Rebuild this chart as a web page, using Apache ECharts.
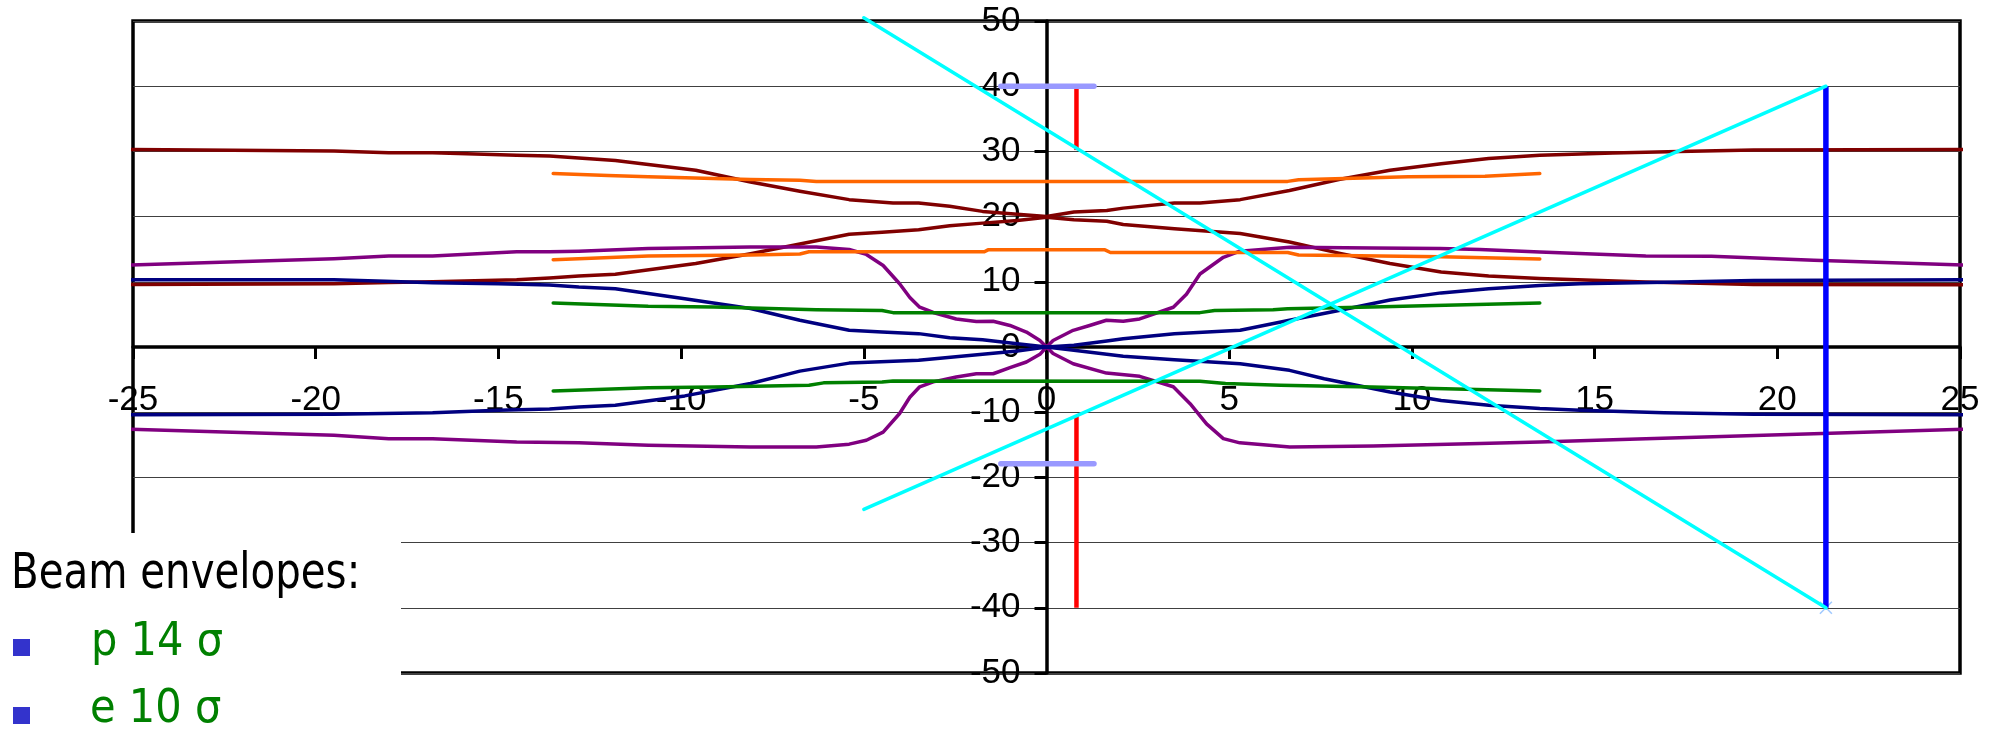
<!DOCTYPE html>
<html>
<head>
<meta charset="utf-8">
<script src="https://cdn.jsdelivr.net/npm/echarts@6/dist/echarts.min.js"></script>
<style>html,body{margin:0;padding:0;background:#fff}#c{width:2000px;height:732px}</style>
</head>
<body>
<div id="c"></div>
<script>
// ---- data (x, y) ----
const xTicks = [-25, -20, -15, -10, -5, 0, 5, 10, 15, 20, 25];
const yTicks = [-50, -40, -30, -20, -10, 0, 10, 20, 30, 40, 50];

const darkRedTop = [[-25.25,30.3],[-19.5,30.05],[-18,29.8],[-16.8,29.8],[-15.4,29.55],[-14.5,29.4],[-13.6,29.3],[-12.8,29.0],[-11.8,28.6],[-9.6,27.1],[-8.1,25.3],[-6.75,23.9],[-5.4,22.6],[-4.2,22.1],[-3.5,22.1],[-2.65,21.6],[-1.75,20.8],[-0.8,20.35],[0,20],[0.75,20.7],[1.65,20.95],[2.1,21.3],[3.5,22.1],[4.2,22.1],[5.3,22.6],[6.65,24.0],[8.0,25.7],[9.4,27.1],[10.8,28.1],[12.1,28.9],[13.5,29.4],[15.5,29.75],[17.3,30.0],[19.35,30.2],[25.25,30.3]];
const darkRedBottom = [[-25.25,9.6],[-19.5,9.7],[-18,9.9],[-16.8,10.0],[-14.5,10.3],[-13.6,10.6],[-12.8,10.9],[-11.8,11.15],[-9.6,12.8],[-8.1,14.3],[-6.75,15.8],[-5.4,17.3],[-4.5,17.6],[-3.5,18.0],[-2.65,18.6],[-1.75,19.0],[-0.8,19.4],[0,19.9],[0.75,19.5],[1.65,19.3],[2.1,18.8],[3.5,18.15],[5.3,17.4],[6.65,16.1],[8.0,14.4],[9.4,12.8],[10.8,11.5],[12.1,10.9],[13.5,10.5],[16.4,9.97],[19.35,9.6],[25.25,9.55]];
const navyTop = [[-25.25,10.33],[-19.5,10.33],[-18.1,10.1],[-16.8,9.87],[-15,9.7],[-13.6,9.5],[-12.8,9.2],[-11.8,8.95],[-9.9,7.4],[-8.1,5.9],[-6.75,4.1],[-5.4,2.56],[-4.5,2.3],[-3.5,2.05],[-2.65,1.43],[-1.75,1.1],[-0.8,0.5],[0,0],[0.75,0.26],[1.65,0.92],[2.1,1.28],[3.5,2.05],[5.3,2.56],[6.65,4.1],[8.0,5.6],[9.4,7.2],[10.8,8.3],[12.1,8.95],[13.5,9.45],[14.6,9.7],[17.3,9.97],[19.35,10.2],[25.25,10.33]];
const navyBottom = [[-25.25,-10.4],[-19.5,-10.33],[-16.8,-10.1],[-15,-9.7],[-13.6,-9.5],[-12.8,-9.2],[-11.8,-8.95],[-9.9,-7.5],[-8.1,-5.6],[-6.75,-3.7],[-5.4,-2.47],[-3.5,-2.05],[-1.75,-1.12],[-0.8,-0.6],[0,0],[0.75,-0.5],[2.1,-1.43],[3.5,-1.94],[5.3,-2.56],[6.65,-3.58],[7.6,-4.86],[9.4,-6.9],[10.8,-8.2],[12.1,-8.95],[13.5,-9.45],[14.6,-9.7],[16.9,-10.1],[19.35,-10.33],[25.25,-10.4]];
const purpleTop = [[-25.25,12.53],[-19.5,13.55],[-18,13.96],[-16.8,13.96],[-14.5,14.6],[-13.6,14.6],[-12.8,14.7],[-10.9,15.1],[-8.1,15.35],[-6.3,15.35],[-5.4,14.95],[-4.93,14.2],[-4.47,12.5],[-4.02,9.7],[-3.74,7.6],[-3.47,6.1],[-3.1,5.3],[-2.47,4.3],[-1.92,3.9],[-1.46,3.95],[-1.0,3.3],[-0.55,2.3],[-0.18,1.0],[0,0],[0.18,1.0],[0.73,2.56],[1.18,3.3],[1.64,4.1],[2.1,3.95],[2.55,4.3],[3.47,6.1],[3.83,8.1],[4.2,11.2],[4.84,13.76],[5.29,14.7],[6.66,15.3],[8.94,15.2],[10.77,15.1],[11.86,14.95],[13.5,14.57],[16.4,13.96],[18.2,13.9],[21,13.3],[25.25,12.53]];
const purpleBottom = [[-25.25,-12.6],[-19.5,-13.55],[-18,-14.06],[-16.8,-14.06],[-14.5,-14.57],[-12.8,-14.7],[-10.9,-15.08],[-8.1,-15.33],[-6.3,-15.33],[-5.4,-14.9],[-4.93,-14.3],[-4.47,-13.05],[-4.02,-10.2],[-3.74,-7.7],[-3.47,-6.1],[-3.1,-5.35],[-2.47,-4.6],[-1.92,-4.1],[-1.46,-4.1],[-1.0,-3.17],[-0.55,-2.3],[-0.18,-1.12],[0,0],[0.18,-1.0],[0.73,-2.56],[1.64,-4.0],[2.55,-4.5],[3.47,-6.1],[3.93,-8.7],[4.38,-11.8],[4.84,-14.06],[5.29,-14.7],[6.66,-15.33],[8.94,-15.2],[11.86,-14.8],[13.5,-14.57],[16.4,-14.06],[21,-13.3],[25.25,-12.6]];
const orangeTop = [[-13.5,26.6],[-12,26.3],[-10.9,26.1],[-8.1,25.7],[-6.75,25.57],[-6.3,25.4],[0,25.4],[6.6,25.4],[6.9,25.65],[9.9,26.1],[12,26.2],[13.5,26.6]];
const orangeBottom = [[-13.5,13.4],[-10.9,13.96],[-8.1,14.1],[-6.75,14.27],[-6.5,14.6],[-1.7,14.6],[-1.6,14.9],[1.6,14.9],[1.75,14.5],[6.6,14.5],[6.9,14.1],[10.8,13.86],[13.5,13.5]];
const greenTop = [[-13.5,6.75],[-10.9,6.24],[-9.1,6.13],[-6.3,5.7],[-4.5,5.6],[-4.2,5.27],[4.2,5.27],[4.6,5.6],[6.2,5.7],[6.6,5.88],[8.9,6.13],[13.5,6.75]];
const greenBottom = [[-13.5,-6.75],[-10.9,-6.24],[-9.1,-6.13],[-6.5,-5.88],[-6.1,-5.5],[-4.5,-5.37],[-4.2,-5.2],[4.2,-5.27],[4.9,-5.6],[6.4,-5.88],[8.9,-6.13],[13.5,-6.75]];
const redUpper = [[0.82,40],[0.82,30.2]];
const redLower = [[0.82,-10.6],[0.82,-40]];
const lilacUpper = [[-1.25,40],[1.3,40]];
const lilacLower = [[-1.25,-17.9],[1.3,-17.9]];
const blueLine = [[21.33,40],[21.33,-40]];
const cyanDown = [[-5,50.5],[21.33,-40]];
const cyanUp = [[-5,-24.9],[21.33,40]];
const crossPoint = [[21.33,-40]];

const legendTitle = 'Beam envelopes:';
const legendItems = ['p 14 σ', 'e 10 σ'];

// ---- layout ----
const W = 2000, H = 732;
const G = { left: 133, right: 40, top: 21, bottom: 59 };
const plotW = W - G.left - G.right, plotH = H - G.top - G.bottom;
const xMin = xTicks[0], xMax = xTicks[xTicks.length - 1];
const yMin = yTicks[0], yMax = yTicks[yTicks.length - 1];
// axes cross at the origin: shift each axis from the grid edge to the zero line
const xAxisOffset = -plotH * (0 - yMin) / (yMax - yMin);
const yAxisOffset = -plotW * (0 - xMin) / (xMax - xMin);

const FONT = 'Liberation Sans';
function line(data, color, width, extra) {
  return Object.assign({
    type: 'line', data: data, showSymbol: false, symbol: 'none', clip: false,
    animation: false, silent: true,
    lineStyle: { color: color, width: width, cap: 'round', join: 'round' }
  }, extra || {});
}

const chart = echarts.init(document.getElementById('c'), null, { renderer: 'canvas' });
chart.setOption({
  animation: false,
  backgroundColor: '#fff',
  grid: { left: G.left, right: G.right, top: G.top, bottom: G.bottom, show: true, borderColor: '#000', borderWidth: 3.5, backgroundColor: 'transparent' },
  xAxis: {
    type: 'value', min: xMin, max: xMax, interval: 5, position: 'bottom', offset: xAxisOffset,
    axisLine: { onZero: false, lineStyle: { color: '#000', width: 3.5 } },
    axisTick: { show: true, length: 12, lineStyle: { color: '#000', width: 3 } },
    axisLabel: { color: '#000', fontFamily: FONT, fontSize: 35, margin: 36, showMinLabel: true, showMaxLabel: true },
    splitLine: { show: false }
  },
  yAxis: {
    type: 'value', min: yMin, max: yMax, interval: 10, position: 'left', offset: yAxisOffset,
    axisLine: { onZero: false, lineStyle: { color: '#000', width: 3.5 } },
    axisTick: { show: true, length: 12, lineStyle: { color: '#000', width: 3 } },
    axisLabel: { color: '#000', fontFamily: FONT, fontSize: 35, margin: 26, showMinLabel: true, showMaxLabel: true },
    splitLine: { show: true, lineStyle: { color: '#404040', width: 1.2 } }
  },
  series: [
    line(darkRedTop, '#800000', 3.5),
    line(darkRedBottom, '#800000', 3.5),
    line(purpleTop, '#800080', 3.5),
    line(purpleBottom, '#800080', 3.5),
    line(navyTop, '#000080', 3.5),
    line(navyBottom, '#000080', 3.5),
    line(orangeTop, '#FF6600', 3.5),
    line(orangeBottom, '#FF6600', 3.5),
    line(greenTop, '#008000', 3.5),
    line(greenBottom, '#008000', 3.5),
    line(redUpper, '#FF0000', 4.5, { lineStyle: { color: '#FF0000', width: 4.5, cap: 'butt' } }),
    line(redLower, '#FF0000', 4.5, { lineStyle: { color: '#FF0000', width: 4.5, cap: 'butt' } }),
    line(lilacUpper, '#9999FF', 5.5),
    line(lilacLower, '#9999FF', 5.5),
    line(blueLine, '#0000FF', 5.5, { lineStyle: { color: '#0000FF', width: 5.5, cap: 'butt' } }),
    line(cyanDown, '#00FFFF', 3.5),
    line(cyanUp, '#00FFFF', 3.5),
    { type: 'scatter', data: crossPoint, symbol: 'path://M0,0L10,10M10,0L0,10', symbolSize: 12,
      itemStyle: { color: 'none', borderColor: '#88bbff', borderWidth: 1.5 }, silent: true, clip: false, animation: false }
  ],
  graphic: [
    { type: 'rect', z: 100, shape: { x: 0, y: 533, width: 401, height: 199 }, style: { fill: '#fff' } },
    { type: 'text', z: 101, x: 11, y: 575, scaleX: 0.823,
      style: { text: legendTitle, x: 0, y: 0, fill: '#000', font: "49px 'DejaVu Sans', sans-serif", align: 'left', verticalAlign: 'middle' } },
    { type: 'rect', z: 101, shape: { x: 13, y: 639, width: 17, height: 17 }, style: { fill: '#3333CC' } },
    { type: 'text', z: 101, x: 91, y: 643, scaleX: 0.885,
      style: { text: legendItems[0], x: 0, y: 0, fill: '#008000', font: "47px 'DejaVu Sans', sans-serif", align: 'left', verticalAlign: 'middle' } },
    { type: 'rect', z: 101, shape: { x: 13, y: 707, width: 17, height: 17 }, style: { fill: '#3333CC' } },
    { type: 'text', z: 101, x: 90, y: 710, scaleX: 0.885,
      style: { text: legendItems[1], x: 0, y: 0, fill: '#008000', font: "47px 'DejaVu Sans', sans-serif", align: 'left', verticalAlign: 'middle' } }
  ]
});
</script>
</body>
</html>
